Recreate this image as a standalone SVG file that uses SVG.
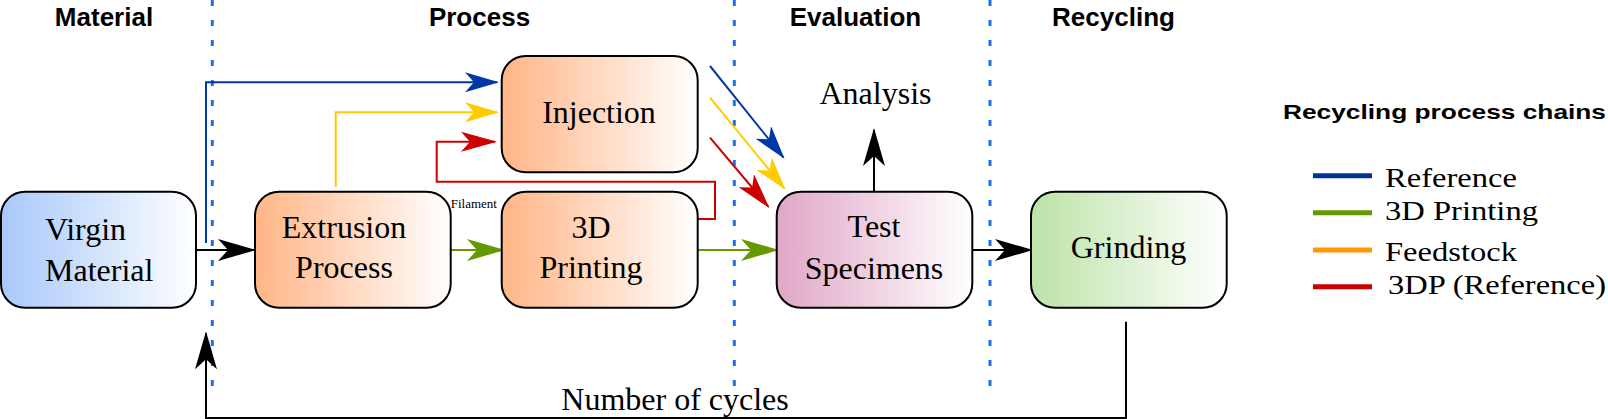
<svg xmlns="http://www.w3.org/2000/svg" width="1608" height="419" viewBox="0 0 1608 419">
  <style>
    .hdr { font-family: "Liberation Sans", Arial, sans-serif; font-weight: bold; font-size: 26px; fill: #000; text-anchor: middle; }
    .ttl { font-family: "Liberation Sans", Arial, sans-serif; font-weight: bold; font-size: 21px; fill: #000; }
    .lbl { font-family: "Liberation Serif", "Times New Roman", serif; font-size: 32px; fill: #000; }
    .mid { text-anchor: middle; }
    .leg { font-family: "Liberation Serif", "Times New Roman", serif; font-size: 27px; fill: #000; }
    .box { stroke: #000; stroke-width: 2; }
    .sep { stroke: #1a73e8; stroke-width: 3; stroke-dasharray: 6 14; fill: none; }
    .c { fill: none; stroke-width: 2; }
    .k { stroke: #000; }
    .b { stroke: #0038a8; }
    .y { stroke: #ffcc00; }
    .r { stroke: #cc0000; }
    .g { stroke: #669900; }
  </style>
  <defs>
    <linearGradient id="gBlue" x1="0" y1="0" x2="1" y2="0">
      <stop offset="0" stop-color="#a8c8fa"/>
      <stop offset="1" stop-color="#ffffff"/>
    </linearGradient>
    <linearGradient id="gOrange" x1="0" y1="0" x2="1" y2="0">
      <stop offset="0" stop-color="#ffb586"/>
      <stop offset="1" stop-color="#ffffff"/>
    </linearGradient>
    <linearGradient id="gPink" x1="0" y1="0" x2="1" y2="0">
      <stop offset="0" stop-color="#e0a6c6"/>
      <stop offset="1" stop-color="#ffffff"/>
    </linearGradient>
    <linearGradient id="gGreen" x1="0" y1="0" x2="1" y2="0">
      <stop offset="0" stop-color="#bde3a8"/>
      <stop offset="1" stop-color="#ffffff"/>
    </linearGradient>
    <marker id="mK" markerUnits="userSpaceOnUse" markerWidth="38" markerHeight="22" refX="36" refY="11" orient="auto" viewBox="0 0 38 22">
      <path d="M0,0 L38,11 L0,22 L10,11 z" fill="#000"/>
    </marker>
    <marker id="mB" markerUnits="userSpaceOnUse" markerWidth="34" markerHeight="20" refX="32" refY="10" orient="auto" viewBox="0 0 34 20">
      <path d="M0,0 L34,10 L0,20 L9,10 z" fill="#0038a8"/>
    </marker>
    <marker id="mY" markerUnits="userSpaceOnUse" markerWidth="34" markerHeight="20" refX="32" refY="10" orient="auto" viewBox="0 0 34 20">
      <path d="M0,0 L34,10 L0,20 L9,10 z" fill="#ffcc00"/>
    </marker>
    <marker id="mR" markerUnits="userSpaceOnUse" markerWidth="36" markerHeight="20" refX="34" refY="10" orient="auto" viewBox="0 0 36 20">
      <path d="M0,0 L36,10 L0,20 L9,10 z" fill="#cc0000"/>
    </marker>
    <marker id="mG" markerUnits="userSpaceOnUse" markerWidth="38" markerHeight="22" refX="36" refY="11" orient="auto" viewBox="0 0 38 22">
      <path d="M0,0 L38,11 L0,22 L10,11 z" fill="#669900"/>
    </marker>
  </defs>

  <rect width="1608" height="419" fill="#ffffff"/>

  <g id="headers">
    <text class="hdr" x="104" y="26">Material</text>
    <text class="hdr" x="479.5" y="26">Process</text>
    <text class="hdr" x="855.5" y="26">Evaluation</text>
    <text class="hdr" x="1113.5" y="26">Recycling</text>
  </g>

  <g id="separators">
    <line class="sep" x1="212.3" y1="0" x2="212.3" y2="386"/>
    <line class="sep" x1="734.3" y1="0" x2="734.3" y2="386"/>
    <line class="sep" x1="990" y1="0" x2="990" y2="386"/>
  </g>

  <g id="connectors">
    <path class="c k" d="M196,250 H254" marker-end="url(#mK)"/>
    <path class="c b" d="M206,243 V82.3 H497" marker-end="url(#mB)"/>
    <path class="c y" d="M335.7,187 V112.3 H497" marker-end="url(#mY)"/>
    <path class="c r" d="M697,219 H715 V181.7 H436.7 V141.7 H495" marker-end="url(#mR)"/>
    <path class="c g" d="M450.7,250 H503" marker-end="url(#mG)"/>
    <path class="c g" d="M697,250 H777" marker-end="url(#mG)"/>
    <path class="c b" d="M710,66 L783.3,157.3" marker-end="url(#mB)"/>
    <path class="c y" d="M710,97.7 L784.3,188.3" marker-end="url(#mY)"/>
    <path class="c r" d="M710,137.7 L768.3,206.7" marker-end="url(#mR)"/>
    <path class="c k" d="M874,191.7 V130" marker-end="url(#mK)"/>
    <path class="c k" d="M972.3,250 H1031" marker-end="url(#mK)"/>
    <path class="c k" d="M1126,321.7 V418 H206 V333.3" marker-end="url(#mK)"/>
    <text x="450.7" y="208" font-family="'Liberation Serif', 'Times New Roman', serif" font-size="13" fill="#000">Filament</text>
    <text class="lbl mid" x="675" y="410">Number of cycles</text>
  </g>

  <g id="virgin">
    <rect class="box" x="1" y="191.7" width="195" height="116" rx="24" fill="url(#gBlue)"/>
    <text class="lbl" x="45" y="240">Virgin</text>
    <text class="lbl" x="45" y="281">Material</text>
  </g>

  <g id="extrusion">
    <rect class="box" x="255" y="191.7" width="195.7" height="116" rx="24" fill="url(#gOrange)"/>
    <text class="lbl mid" x="344" y="238.3">Extrusion</text>
    <text class="lbl mid" x="344" y="278.3">Process</text>
  </g>

  <g id="injection">
    <rect class="box" x="501.7" y="56" width="196" height="116.3" rx="24" fill="url(#gOrange)"/>
    <text class="lbl mid" x="599" y="122.7">Injection</text>
  </g>

  <g id="printing">
    <rect class="box" x="501.7" y="191.7" width="196" height="116" rx="24" fill="url(#gOrange)"/>
    <text class="lbl mid" x="591" y="238.3">3D</text>
    <text class="lbl mid" x="591" y="278.3">Printing</text>
  </g>

  <g id="analysis">
    <text class="lbl mid" x="875.5" y="104" font-size="30">Analysis</text>
  </g>

  <g id="test">
    <rect class="box" x="776.7" y="191.7" width="195.6" height="116" rx="24" fill="url(#gPink)"/>
    <text class="lbl mid" x="874" y="237">Test</text>
    <text class="lbl mid" x="874" y="279">Specimens</text>
  </g>

  <g id="grinding">
    <rect class="box" x="1031" y="191.7" width="195.7" height="116" rx="24" fill="url(#gGreen)"/>
    <text class="lbl mid" x="1128.5" y="258.3">Grinding</text>
  </g>

  <g id="legend">
    <text class="ttl" x="1283" y="119" textLength="323" lengthAdjust="spacingAndGlyphs">Recycling process chains</text>
    <line x1="1313" y1="175.7" x2="1372" y2="175.7" stroke="#003399" stroke-width="5"/>
    <line x1="1313" y1="212.7" x2="1372" y2="212.7" stroke="#669900" stroke-width="5"/>
    <line x1="1313" y1="250" x2="1372" y2="250" stroke="#ff9900" stroke-width="5"/>
    <line x1="1313" y1="286.7" x2="1372" y2="286.7" stroke="#cc0000" stroke-width="5"/>
    <text class="leg" x="1385" y="187" textLength="132" lengthAdjust="spacingAndGlyphs">Reference</text>
    <text class="leg" x="1385" y="220" textLength="153" lengthAdjust="spacingAndGlyphs">3D Printing</text>
    <text class="leg" x="1385" y="260.5" textLength="132" lengthAdjust="spacingAndGlyphs">Feedstock</text>
    <text class="leg" x="1388" y="294" textLength="218" lengthAdjust="spacingAndGlyphs">3DP (Reference)</text>
  </g>
</svg>
